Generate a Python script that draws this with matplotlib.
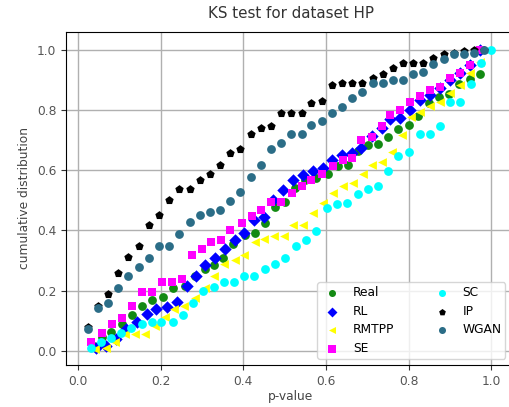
import matplotlib
matplotlib.use("Agg")
import matplotlib.pyplot as plt

title = "KS test for dataset HP"
x_label = "p-value"
y_label = "cumulative distribution"
x_ticks = [0.0, 0.2, 0.4, 0.6, 0.8, 1.0]
y_ticks = [0.0, 0.2, 0.4, 0.6, 0.8, 1.0]

# Real
real_x = [0.033, 0.057, 0.081, 0.106, 0.130, 0.154, 0.180, 0.206, 0.231, 0.259, 0.283, 0.307, 0.329, 0.352,
          0.376, 0.404, 0.428, 0.452, 0.477, 0.501, 0.525, 0.549, 0.577, 0.605, 0.629, 0.653, 0.677, 0.702,
          0.726, 0.750, 0.774, 0.800, 0.824, 0.849, 0.873, 0.897, 0.921, 0.948, 0.972]
real_y = [0.020, 0.045, 0.061, 0.090, 0.120, 0.150, 0.169, 0.180, 0.208, 0.214, 0.249, 0.271, 0.286, 0.308,
          0.355, 0.385, 0.391, 0.426, 0.477, 0.496, 0.540, 0.568, 0.575, 0.587, 0.615, 0.618, 0.664, 0.684,
          0.687, 0.709, 0.737, 0.750, 0.780, 0.822, 0.842, 0.855, 0.886, 0.903, 0.920]

# RL
rl_x = [0.044, 0.068, 0.093, 0.117, 0.142, 0.166, 0.190, 0.215, 0.239, 0.263, 0.285, 0.308, 0.332, 0.356,
        0.380, 0.402, 0.426, 0.450, 0.471, 0.495, 0.521, 0.545, 0.569, 0.594, 0.614, 0.638, 0.662, 0.686,
        0.711, 0.735, 0.755, 0.779, 0.803, 0.827, 0.851, 0.876, 0.900, 0.924, 0.948, 0.973]
rl_y = [0.010, 0.017, 0.040, 0.072, 0.095, 0.121, 0.138, 0.147, 0.161, 0.216, 0.250, 0.285, 0.310, 0.340,
        0.367, 0.390, 0.435, 0.446, 0.502, 0.535, 0.568, 0.585, 0.597, 0.607, 0.635, 0.651, 0.657, 0.673,
        0.714, 0.740, 0.770, 0.773, 0.800, 0.834, 0.850, 0.873, 0.900, 0.922, 0.950, 1.000]

# RMTPP
rmtpp_x = [0.041, 0.068, 0.090, 0.114, 0.138, 0.162, 0.186, 0.210, 0.233, 0.257, 0.283, 0.307, 0.330, 0.354,
           0.380, 0.402, 0.428, 0.451, 0.475, 0.499, 0.521, 0.545, 0.569, 0.594, 0.618, 0.642, 0.666, 0.690,
           0.711, 0.735, 0.759, 0.783, 0.807, 0.827, 0.851, 0.876, 0.900, 0.924, 0.948, 0.973]
rmtpp_y = [0.005, 0.011, 0.030, 0.056, 0.056, 0.056, 0.083, 0.114, 0.140, 0.150, 0.175, 0.210, 0.249, 0.290,
           0.302, 0.319, 0.360, 0.372, 0.380, 0.380, 0.419, 0.419, 0.459, 0.491, 0.526, 0.548, 0.557, 0.588,
           0.618, 0.629, 0.662, 0.718, 0.778, 0.795, 0.812, 0.828, 0.856, 0.884, 0.922, 0.960]

# SE
se_x = [0.031, 0.057, 0.082, 0.106, 0.130, 0.154, 0.178, 0.203, 0.227, 0.251, 0.275, 0.299, 0.323, 0.347,
        0.369, 0.396, 0.420, 0.444, 0.468, 0.492, 0.517, 0.541, 0.565, 0.590, 0.618, 0.642, 0.662, 0.686,
        0.711, 0.735, 0.755, 0.779, 0.803, 0.827, 0.851, 0.876, 0.900, 0.924, 0.948, 0.973]
se_y = [0.031, 0.059, 0.090, 0.109, 0.150, 0.197, 0.197, 0.230, 0.230, 0.238, 0.319, 0.339, 0.360, 0.369,
        0.400, 0.424, 0.449, 0.468, 0.496, 0.496, 0.526, 0.548, 0.568, 0.588, 0.615, 0.635, 0.640, 0.701,
        0.710, 0.748, 0.784, 0.801, 0.828, 0.847, 0.867, 0.878, 0.906, 0.922, 0.950, 1.000]

# SC
sc_x = [0.031, 0.055, 0.079, 0.103, 0.128, 0.154, 0.178, 0.202, 0.229, 0.253, 0.279, 0.303, 0.329, 0.353,
        0.377, 0.402, 0.426, 0.452, 0.477, 0.502, 0.527, 0.551, 0.575, 0.602, 0.626, 0.650, 0.677, 0.702,
        0.726, 0.750, 0.774, 0.800, 0.827, 0.851, 0.875, 0.901, 0.925, 0.950, 0.976, 1.000]
sc_y = [0.009, 0.028, 0.042, 0.059, 0.075, 0.090, 0.097, 0.097, 0.097, 0.120, 0.158, 0.200, 0.212, 0.228,
        0.228, 0.249, 0.249, 0.271, 0.288, 0.310, 0.347, 0.369, 0.399, 0.476, 0.487, 0.491, 0.520, 0.537,
        0.548, 0.598, 0.648, 0.659, 0.720, 0.720, 0.748, 0.828, 0.828, 0.886, 0.958, 1.000]

# IP
ip_x = [0.024, 0.049, 0.073, 0.098, 0.122, 0.147, 0.172, 0.196, 0.221, 0.245, 0.270, 0.295, 0.319, 0.344,
        0.368, 0.393, 0.418, 0.442, 0.467, 0.491, 0.516, 0.541, 0.565, 0.590, 0.614, 0.639, 0.664, 0.688,
        0.713, 0.737, 0.762, 0.787, 0.811, 0.836, 0.860, 0.885, 0.910, 0.934, 0.959, 0.983]
ip_y = [0.078, 0.150, 0.190, 0.258, 0.311, 0.349, 0.418, 0.450, 0.500, 0.539, 0.539, 0.568, 0.587, 0.619,
        0.658, 0.670, 0.719, 0.740, 0.748, 0.790, 0.790, 0.790, 0.822, 0.831, 0.883, 0.890, 0.890, 0.890,
        0.905, 0.921, 0.940, 0.958, 0.958, 0.958, 0.974, 0.985, 0.990, 0.995, 1.000, 1.000]

# WGAN
wgan_x = ip_x
wgan_y = [0.072, 0.142, 0.158, 0.208, 0.249, 0.279, 0.308, 0.349, 0.349, 0.388, 0.428, 0.452, 0.461, 0.469,
          0.498, 0.528, 0.579, 0.619, 0.670, 0.689, 0.719, 0.719, 0.750, 0.762, 0.790, 0.810, 0.840, 0.859,
          0.890, 0.890, 0.899, 0.899, 0.921, 0.928, 0.952, 0.971, 0.986, 0.986, 0.988, 0.999]

series = [
    ("Real", real_x, real_y, "o", "#138a13"),
    ("RL", rl_x, rl_y, "D", "#0000ff"),
    ("RMTPP", rmtpp_x, rmtpp_y, "<", "#ffff00"),
    ("SE", se_x, se_y, "s", "#ff00ff"),
    ("SC", sc_x, sc_y, "o", "#00ffff"),
    ("IP", ip_x, ip_y, "p", "#000000"),
    ("WGAN", wgan_x, wgan_y, "o", "#2b6d87"),
]

fig = plt.figure(figsize=(5.10, 4.07), dpi=100)
ax = fig.add_axes([66 / 510, 1 - 365 / 407, (516 - 66) / 510, (365 - 31.5) / 407])

for name, xs, ys, mk, col in series:
    ax.scatter(xs, ys, marker=mk, color=col, s=40, label=name, linewidths=0, zorder=3)

ax.set_xlim(-0.029, 1.06)
ax.set_ylim(-0.047, 1.061)
ax.set_xticks(x_ticks)
ax.set_yticks(y_ticks)
ax.grid(True, color="#b0b0b0", linewidth=1.0, zorder=0)
ax.set_axisbelow(True)
ax.tick_params(labelsize=8.8, colors="#333333", labelcolor="#555555")
ax.set_title(title, fontsize=10.9, color="#333333", pad=9.5)
ax.set_xlabel(x_label, fontsize=8.8, color="#444444", labelpad=1.5)
ax.set_ylabel(y_label, fontsize=8.8, color="#444444")
ax.legend(loc="lower right", ncol=2, fontsize=8.8, scatterpoints=1, markerscale=0.8,
          columnspacing=3.0, handletextpad=0.8, handlelength=1.8, borderpad=0.3,
          labelspacing=0.47, bbox_to_anchor=(0.99, 0.0))

fig.savefig("out.png", dpi=100)
